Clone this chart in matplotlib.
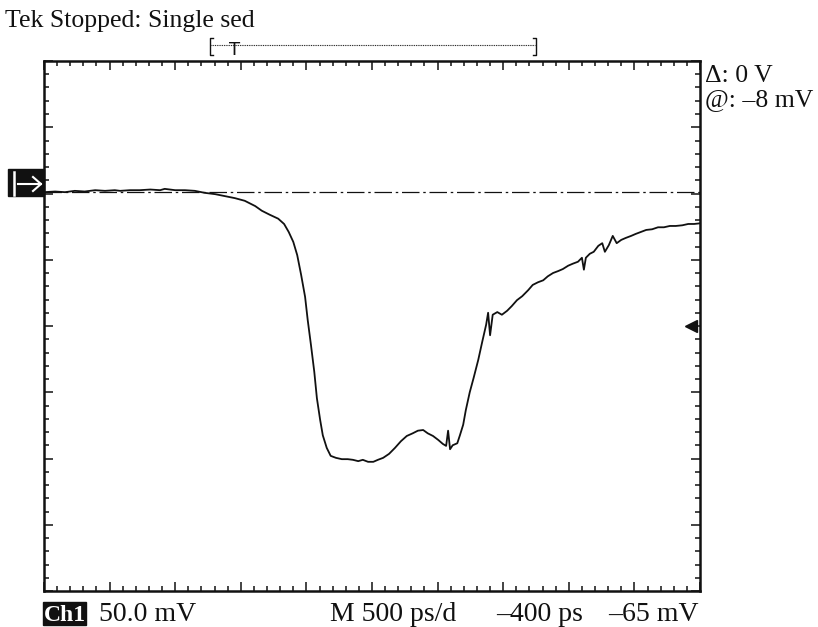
import matplotlib
matplotlib.use("Agg")
import matplotlib.pyplot as plt
from matplotlib.ticker import MultipleLocator
from matplotlib.patches import Rectangle

# scope trace in graticule divisions
# (500 ps/div horizontally, 50 mV/div vertically, screen centre = 0)
t_div = [0.00, 0.17, 0.32, 0.47, 0.62, 0.78, 0.93, 1.08, 1.16, 1.31,
         1.46, 1.62, 1.77, 1.84, 2.00, 2.15, 2.30, 2.45, 2.61, 2.76,
         2.91, 3.06, 3.22, 3.32, 3.44, 3.57, 3.66, 3.73, 3.80, 3.86,
         3.92, 3.98, 4.02, 4.07, 4.12, 4.16, 4.21, 4.25, 4.31, 4.37,
         4.45, 4.54, 4.63, 4.71, 4.79, 4.86, 4.94, 5.02, 5.09, 5.17,
         5.26, 5.35, 5.44, 5.53, 5.62, 5.70, 5.78, 5.85, 5.93, 6.01,
         6.08, 6.13, 6.16, 6.19, 6.23, 6.30, 6.34, 6.39, 6.43, 6.49,
         6.55, 6.62, 6.68, 6.74, 6.77, 6.80, 6.84, 6.91, 6.98, 7.06,
         7.13, 7.21, 7.29, 7.38, 7.45, 7.53, 7.61, 7.68, 7.76, 7.84,
         7.91, 7.99, 8.06, 8.14, 8.20, 8.23, 8.26, 8.32, 8.38, 8.45,
         8.51, 8.55, 8.61, 8.67, 8.73, 8.80, 8.87, 8.95, 9.02, 9.10,
         9.18, 9.27, 9.36, 9.45, 9.54, 9.63, 9.73, 9.82, 9.91, 10.0]
v_div = [2.02, 2.03, 2.02, 2.04, 2.03, 2.05, 2.04, 2.05, 2.04, 2.05,
         2.05, 2.06, 2.05, 2.07, 2.05, 2.05, 2.04, 2.01, 1.99, 1.96,
         1.93, 1.89, 1.81, 1.74, 1.68, 1.62, 1.54, 1.42, 1.27, 1.07,
         0.77, 0.44, 0.09, -0.29, -0.69, -1.09, -1.42, -1.65, -1.84, -1.96,
         -1.99, -2.01, -2.01, -2.02, -2.04, -2.02, -2.05, -2.05, -2.02, -1.99,
         -1.93, -1.84, -1.74, -1.66, -1.62, -1.58, -1.57, -1.62, -1.66, -1.72,
         -1.78, -1.81, -1.58, -1.86, -1.80, -1.77, -1.65, -1.49, -1.27, -1.00,
         -0.78, -0.51, -0.24, 0.02, 0.20, -0.14, 0.17, 0.21, 0.17, 0.23,
         0.30, 0.39, 0.45, 0.54, 0.62, 0.66, 0.69, 0.75, 0.80, 0.83,
         0.86, 0.91, 0.94, 0.97, 1.03, 0.85, 1.03, 1.09, 1.12, 1.21,
         1.25, 1.12, 1.22, 1.36, 1.25, 1.30, 1.33, 1.36, 1.39, 1.42,
         1.45, 1.46, 1.49, 1.49, 1.51, 1.51, 1.52, 1.54, 1.54, 1.55]

ref_level = 2.02      # dash-dot reference line
ch_marker = 0.0       # right-hand level arrow
trig_pos = 2.91       # "T" trigger position

header = "Tek Stopped: Single sed"
readouts = ["\u0394: 0 V", "@: \u20138 mV"]
bottom = ["50.0 mV", "M 500 ps/d", "\u2013400 ps", "\u201365 mV"]

serif = "Liberation Serif"
ink = "#111111"
W, H = 818, 627
fig = plt.figure(figsize=(W / 100, H / 100), dpi=100)
ax = fig.add_axes([44 / W, 1 - 591 / H, 656 / W, 530 / H])

ax.plot(t_div, v_div, color=ink, lw=1.3)
ax.axhline(ref_level, color=ink, lw=0.9, ls=(0, (14, 3, 2, 3)))
ax.plot(9.87, ch_marker, marker="<", ms=9, color=ink, clip_on=False)

ax.set_xlim(0, 10)
ax.set_ylim(-4, 4)
ax.xaxis.set_major_locator(MultipleLocator(1))
ax.xaxis.set_minor_locator(MultipleLocator(0.2))
ax.yaxis.set_major_locator(MultipleLocator(1))
ax.yaxis.set_minor_locator(MultipleLocator(0.2))
ax.tick_params(which="both", direction="in", top=True, right=True,
               labelbottom=False, labelleft=False, color=ink, width=1.1)
ax.tick_params(which="major", length=6.5)
ax.tick_params(which="minor", length=3.6)
for s in ax.spines.values():
    s.set_linewidth(1.8)
    s.set_color(ink)

# overlay in pixel coordinates for the screen annotations
ov = fig.add_axes([0, 0, 1, 1], zorder=5)
ov.set_xlim(0, W)
ov.set_ylim(H, 0)
ov.axis("off")
ov.patch.set_alpha(0)

ov.text(5, 27, header, family=serif, fontsize=18.5, va="baseline", color=ink)

# trigger bracket with dotted record span
ov.plot([213, 210, 210, 213], [38, 38, 55, 55], color=ink, lw=1)
ov.plot([533, 536, 536, 533], [38, 38, 55, 55], color=ink, lw=1)
ov.plot([211, 535], [45, 45], color=ink, lw=0.8, ls=(0, (0.8, 0.8)))
tx = 44 + trig_pos * 65.6
ov.text(tx, 55, "T", family="DejaVu Sans", fontsize=13, ha="center",
        va="baseline", color=ink)

# ground marker on the left
ov.add_patch(Rectangle((8, 169), 36, 27, color=ink))
ov.plot([14, 14], [172, 195], color="white", lw=1.8)
ov.plot([18, 41], [184, 184], color="white", lw=1.5)
ov.plot([33, 41, 33], [177, 184, 191], color="white", lw=1.5)

for i, s in enumerate(readouts):
    ov.text(705, 82 + 24 * i, s, family=serif, fontsize=18.5, va="baseline",
            color=ink)

# inverted channel badge
ov.add_patch(Rectangle((43, 602), 43, 23, color=ink))
ov.text(64.5, 621, "Ch1", family=serif, fontsize=17, weight="bold",
        color="white", ha="center", va="baseline")
xs = [196, 330, 496, 699]
has = ["right", "left", "left", "right"]
for x, s, ha in zip(xs, bottom, has):
    ov.text(x, 621, s, family=serif, fontsize=20, va="baseline", ha=ha,
            color=ink)

fig.savefig("out.png", dpi=100)
